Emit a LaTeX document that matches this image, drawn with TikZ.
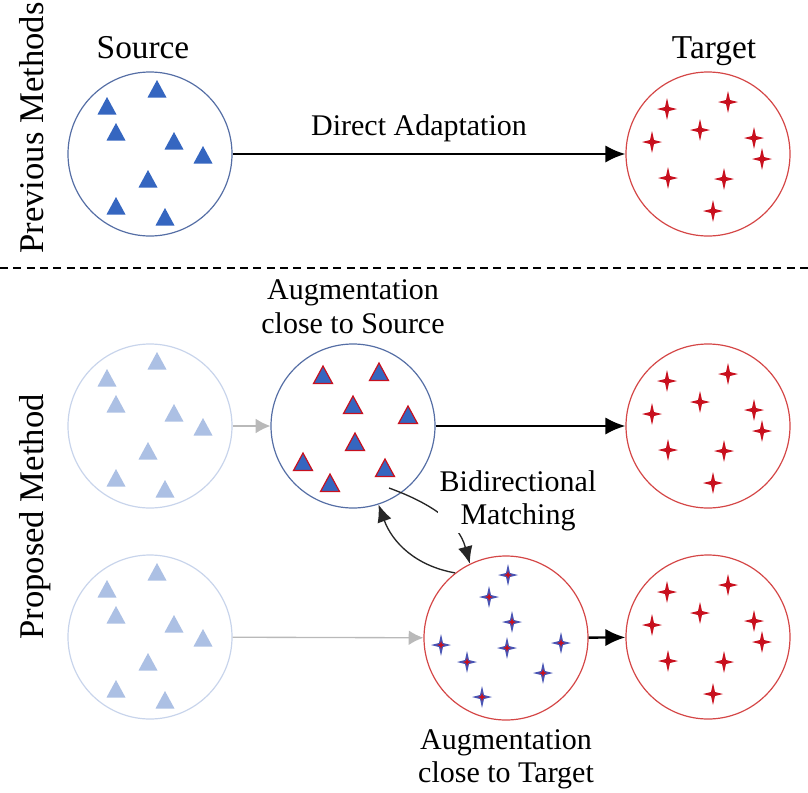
\documentclass[tikz,border=0pt]{standalone}
\usepackage{fontspec}
\setmainfont{Liberation Serif}
\usetikzlibrary{positioning, arrows.meta}

\definecolor{srcblue}{RGB}{53,102,192}
\definecolor{ringblue}{RGB}{85,110,165}
\definecolor{tgtred}{RGB}{200,16,30}
\definecolor{ringred}{RGB}{212,70,70}
\definecolor{fadeblue}{RGB}{172,192,228}
\definecolor{fadering}{RGB}{200,212,235}
\definecolor{mixblue}{RGB}{72,84,180}

% point offsets (px) inside each domain circle
\newcommand{\srcpts}{7/-64, -43/-47, -34/-21, 24/-12, 53/2, -2/26, -34/53, 15/64}
\newcommand{\augsrcpts}{-30/-50, 26/-53, 0/-20, 55/-10, 2/17, -50/37, 32/43, -23/58}
\newcommand{\tgtpts}{-41/-45, 20/-52, -8/-24, -56/-12, 46/-16, 54/5, -40/24, 16/25, 5/57}
\newcommand{\augtgtpts}{2/-63, -17/-41, 6/-16, -65/7, 1/10, 55/5, -39/24, 37/35, -24/59}

\tikzset{
  ring/.style={circle, draw, line width=0.9pt, minimum size=123pt, inner sep=0pt},
  lab/.style={align=center, font=\fontsize{22.5}{25}\selectfont},
  toplab/.style={font=\fontsize{25}{28}\selectfont},
  side/.style={font=\fontsize{26}{30}\selectfont, rotate=90, anchor=base},
  flow/.style={-{Latex[length=15pt, width=13pt]}, line width=1.8pt},
  faint/.style={-{Latex[length=11pt, width=11pt]}, line width=1pt, draw=gray!55},
  matchline/.style={-{Latex[length=13pt, width=11pt]}, line width=1pt, draw=black!85},
  trimark/.pic={\path[pic actions] (0,-10) -- (9.5,7.5) -- (-9.5,7.5) -- cycle;},
  sparkle/.pic={\path[pic actions] (0,-11) -- (2,-2) -- (10,0) -- (2,2) -- (0,11) -- (-2,2) -- (-10,0) -- (-2,-2) -- cycle;},
  mixsparkle/.pic={
    \fill[mixblue] (0,-11) -- (2,-2) -- (10,0) -- (2,2) -- (0,11) -- (-2,2) -- (-10,0) -- (-2,-2) -- cycle;
    \fill[tgtred] (0,-4) -- (1,-1) -- (4,0) -- (1,1) -- (0,4) -- (-1,1) -- (-4,0) -- (-1,-1) -- cycle;}
}

\begin{document}
\begin{tikzpicture}[x=0.75pt, y=-0.75pt, every node/.style={font=\fontsize{22.5}{25}\selectfont}]
\useasboundingbox (0,0) rectangle (808,793);

% rows
\node[side] (prev) at (43,128) {Previous Methods};
\node[side] (prop) at (43,517) {Proposed Method};
\coordinate (sepL) at (0,268);
\coordinate (sepR) at (808,268);
\draw[dashed, line width=0.8pt, dash pattern=on 6pt off 4pt] (sepL) -- (sepR);

% domains
\node[ring, draw=ringblue] (src) at (150,154) {};
\node[ring, draw=ringred] (tgt) at (708,154) {};
\node[ring, draw=fadering] (fsrcA) at (150,426) {};
\node[ring, draw=ringblue] (augsrc) at (353,426) {};
\node[ring, draw=ringred] (tgtA) at (708,426) {};
\node[ring, draw=fadering] (fsrcB) at (150,637) {};
\node[ring, draw=ringred] (augtgt) at (506,638) {};
\node[ring, draw=ringred] (tgtB) at (708,637) {};

% samples
\foreach \dx/\dy in \srcpts {
  \pic[fill=srcblue] at ([shift={(\dx,\dy)}]src.center) {trimark};
  \pic[fill=fadeblue] at ([shift={(\dx,\dy)}]fsrcA.center) {trimark};
  \pic[fill=fadeblue] at ([shift={(\dx,\dy)}]fsrcB.center) {trimark};
}
\foreach \dx/\dy in \augsrcpts
  \pic[fill=srcblue, draw=tgtred, line width=0.9pt] at ([shift={(\dx,\dy)}]augsrc.center) {trimark};
\foreach \c in {tgt, tgtA, tgtB}
  \foreach \dx/\dy in \tgtpts
    \pic[fill=tgtred] at ([shift={(\dx,\dy)}]\c.center) {sparkle};
\foreach \dx/\dy in \augtgtpts
  \pic at ([shift={(\dx,\dy)}]augtgt.center) {mixsparkle};

% labels
\node[toplab, anchor=base] (srclab) at (143,58) {Source};
\node[toplab, anchor=base] (tgtlab) at (714,58) {Target};
\node[anchor=base] (direct) at (419,135) {Direct Adaptation};
\node[lab, above=4pt of augsrc] (augsrclab) {Augmentation\\close to Source};
\node[lab, below=3pt of augtgt] (augtgtlab) {Augmentation\\close to Target};

% arrows
\draw[flow] (src) -- (tgt);
\draw[faint] (fsrcA) -- (augsrc);
\draw[flow] (augsrc) -- (tgtA);
\draw[faint] (fsrcB) -- (augtgt);
\draw[flow] (augtgt) -- (tgtB);

% bidirectional matching
\coordinate (bmstart) at ([shift={(36,62)}]augsrc.center);
\draw[matchline] (augtgt.128) to[out=170, in=-70] (augsrc.-72);
\draw[matchline] (bmstart) to[out=-20, in=105] (augtgt.116);
\node[lab, fill=white, inner sep=1pt] (bmlab) at (518,501) {Bidirectional\\Matching};

\end{tikzpicture}
\end{document}
